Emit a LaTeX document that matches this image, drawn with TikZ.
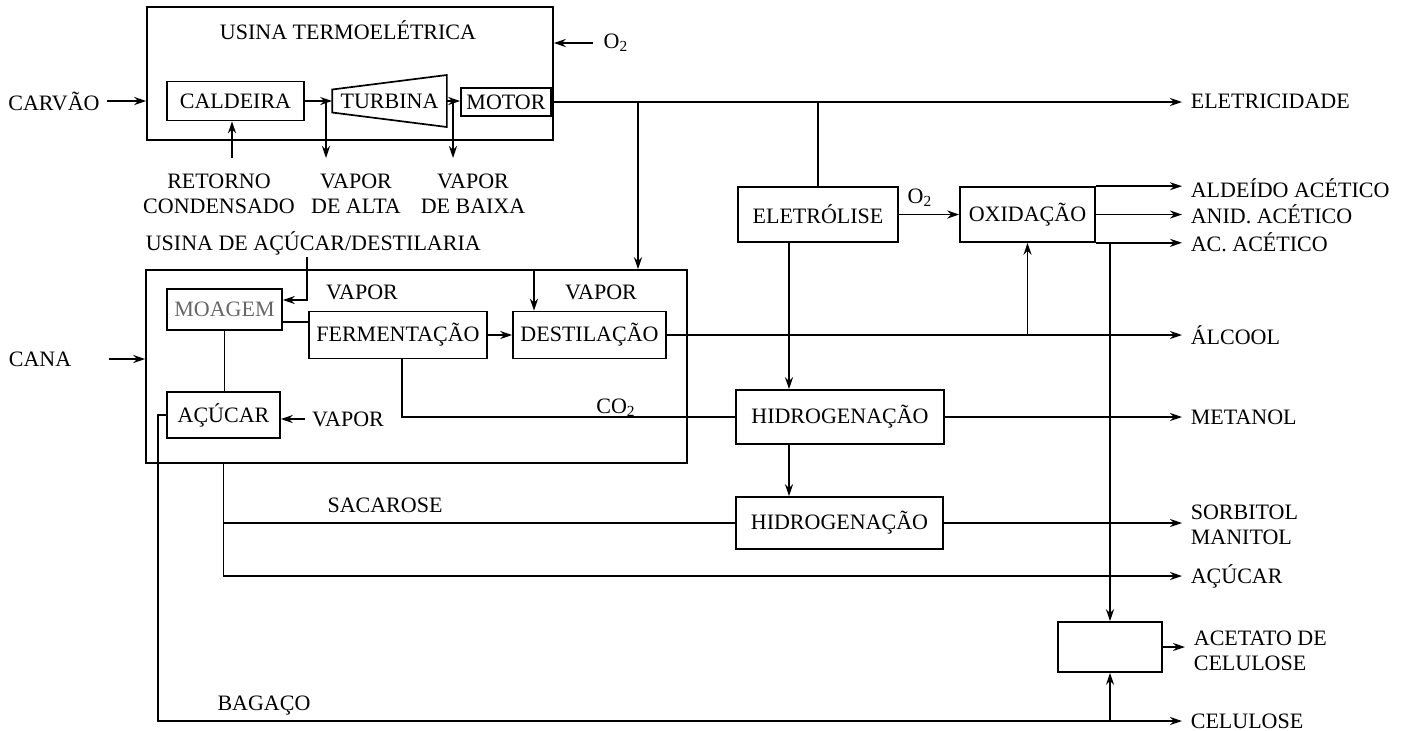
\documentclass[tikz,border=0pt]{standalone}
\usepackage{fontspec}
\setmainfont{Liberation Serif}
\usetikzlibrary{arrows.meta}
\tikzset{
  blk/.style={draw, line width=0.8pt, inner sep=1pt},
  outlbl/.style={anchor=west, inner xsep=4pt, inner ysep=1pt, align=left},
  flow/.style={-{Stealth[length=6pt,width=4pt]}},
}
\begin{document}
\begin{tikzpicture}[x=0.5pt, y=-0.5pt, line width=0.85pt,
    font=\fontsize{11}{12.5}\selectfont]
  \useasboundingbox (0,0) rectangle (1408,730);

  \node[blk, minimum width=203pt, minimum height=66.5pt] (termo) at (350,73.5) {};
  \node (termotit) at (348,30) {USINA TERMOELÉTRICA};
  \node (carvao) at (54,101) {CARVÃO};
  \node[blk, minimum width=68.5pt, minimum height=19.5pt] (caldeira) at (235.5,101) {CALDEIRA};
  \node[inner sep=0pt, minimum width=56.5pt] (turbina) at (389.5,101) {TURBINA};
  \draw ([yshift=5.75pt]turbina.west) -- ([yshift=13pt]turbina.east)
     -- ([yshift=-13pt]turbina.east) -- ([yshift=-5.75pt]turbina.west) -- cycle;
  \node[blk, minimum width=45pt, minimum height=14pt] (motor) at (506,102) {MOTOR};
  \node[inner xsep=0pt] (o2a) at (616,43) {O\textsubscript{2}};

  \coordinate (alta) at (326,158);
  \coordinate (baixa) at (453,158);
  \coordinate (retorno) at (232,158);
  \node[align=center] (retlbl) at (219,193.5) {RETORNO\\CONDENSADO};
  \node[align=center] (altalbl) at (356,193.5) {VAPOR\\DE ALTA};
  \node[align=center] (baixalbl) at (473,193.5) {VAPOR\\DE BAIXA};

  \node[blk, minimum width=270.5pt, minimum height=96.5pt] (usina) at (416.5,366.5) {};
  \node[anchor=west, inner sep=0pt] (usinatit) at (145,243) {USINA DE AÇÚCAR/DESTILARIA};
  \node (cana) at (40,359) {CANA};
  \node[blk, minimum width=57.5pt, minimum height=20.5pt, text=black!60] (moagem) at (224.5,309.5) {MOAGEM};
  \node[blk, minimum width=89pt, minimum height=23.5pt] (ferm) at (398,335) {FERMENTAÇÃO};
  \node[blk, minimum width=76.5pt, minimum height=23.5pt] (dest) at (589.5,335) {DESTILAÇÃO};
  \node[blk, minimum width=56.5pt, minimum height=23pt] (acucar) at (223.5,415) {AÇÚCAR};
  \node (vap1) at (362,292) {VAPOR};
  \node (vap2) at (601,292) {VAPOR};
  \node (vap3) at (348,419) {VAPOR};
  \node (co2) at (616,408) {CO\textsubscript{2}};
  \node (sacarose) at (385,505) {SACAROSE};
  \node (bagaco) at (264,706) {BAGAÇO};

  \node[blk, minimum width=80pt, minimum height=27.5pt] (eletro) at (818,214.5) {ELETRÓLISE};
  \node[blk, minimum width=67.5pt, minimum height=27.5pt] (oxid) at (1027.5,214.5) {OXIDAÇÃO};
  \node (o2b) at (920,198) {O\textsubscript{2}};
  \node[blk, minimum width=104pt, minimum height=27pt] (hidro1) at (840,417) {HIDROGENAÇÃO};
  \node[blk, minimum width=103.5pt, minimum height=26pt] (hidro2) at (839.5,523) {HIDROGENAÇÃO};
  \node[blk, minimum width=52pt, minimum height=25pt] (acetato) at (1110,647) {};

  \node[outlbl] (eletric) at (1182,101) {ELETRICIDADE};
  \node[outlbl] (aldeido) at (1182,188) {ALDEÍDO ACÉTICO};
  \node[outlbl] (anid) at (1182,214.5) {ANID. ACÉTICO};
  \node[outlbl] (acetico) at (1182,242) {AC. ACÉTICO};
  \node[outlbl] (alcool) at (1182,335) {ÁLCOOL};
  \node[outlbl] (metanol) at (1182,417) {METANOL};
  \node[outlbl] (sorbitol) at (1182,524.5) {SORBITOL\\MANITOL};
  \node[outlbl] (acuout) at (1182,576) {AÇÚCAR};
  \node[outlbl] (acetlbl) at (1185,650.5) {ACETATO DE\\CELULOSE};
  \node[outlbl] (celul) at (1182,721) {CELULOSE};

  \draw[flow] ([xshift=-5pt]o2a.west) -- (o2a.west -| termo.east);
  \draw[flow] (carvao.east) -- (carvao.east -| termo.west);
  \draw[flow] (caldeira.east) -- (caldeira.east -| turbina.west);
  \draw[flow] (turbina.east) -- (turbina.east -| motor.west);
  \draw[flow] (alta |- caldeira) -- (alta);
  \draw[flow] (baixa |- motor) -- (baixa);
  \draw[flow] (retorno) -- (retorno |- caldeira.south);
  \draw[flow] (motor.east) -- (motor.east -| eletric.west);
  \draw[flow] (638,0 |- motor) -- (638,0 |- usina.north);
  \draw (eletro.north |- motor) -- (eletro.north);

  \draw[flow] ([xshift=15pt]cana.east) -- (cana.east -| usina.west);
  \draw[flow] (307,257) |- ([yshift=4.75pt]moagem.east);
  \draw ([yshift=-6.25pt]moagem.east) -- ([yshift=-6.25pt]moagem.east -| ferm.west);
  \draw[flow] (ferm.east) -- (ferm.east -| dest.west);
  \draw[flow] ([xshift=-27.75pt]dest.north |- usina.north) -- ([xshift=-27.75pt]dest.north);
  \draw (moagem.south) -- (moagem.south |- acucar.north);
  \draw[flow] (vap3.west) -- (vap3.west -| acucar.east);
  \draw ([xshift=2pt]ferm.south) |- (hidro1.west);
  \draw[flow] (acucar.west) -- ++(-4pt,0) |- (celul.west);
  \draw (acucar.south |- usina.south) |- (hidro2.west);
  \draw[flow] (acucar.south |- usina.south) |- (acuout.west);

  \draw[flow] (eletro.east) -- (eletro.east -| oxid.west);
  \draw[flow] (oxid.north east) -- (oxid.north east -| aldeido.west);
  \draw[flow] (oxid.east) -- (oxid.east -| anid.west);
  \draw[flow] (oxid.south east) -- (oxid.south east -| acetico.west);
  \draw[flow] (dest.east) -- (dest.east -| alcool.west);
  \draw[flow] (oxid.south |- alcool) -- (oxid.south);
  \draw[flow] (acetato.north |- acetico) -- (acetato.north);
  \draw[flow] ([xshift=-14.5pt]eletro.south) -- ([xshift=-14.5pt]eletro.south |- hidro1.north);
  \draw[flow] ([xshift=-25.5pt]hidro1.south) -- ([xshift=-25.5pt]hidro1.south |- hidro2.north);
  \draw[flow] (hidro1.east) -- (hidro1.east -| metanol.west);
  \draw[flow] (hidro2.east) -- (hidro2.east -| sorbitol.west);
  \draw[flow] (acetato.east) -- (acetato.east -| acetlbl.west);
  \draw[flow] (acetato.south |- celul) -- (acetato.south);
\end{tikzpicture}
\end{document}
